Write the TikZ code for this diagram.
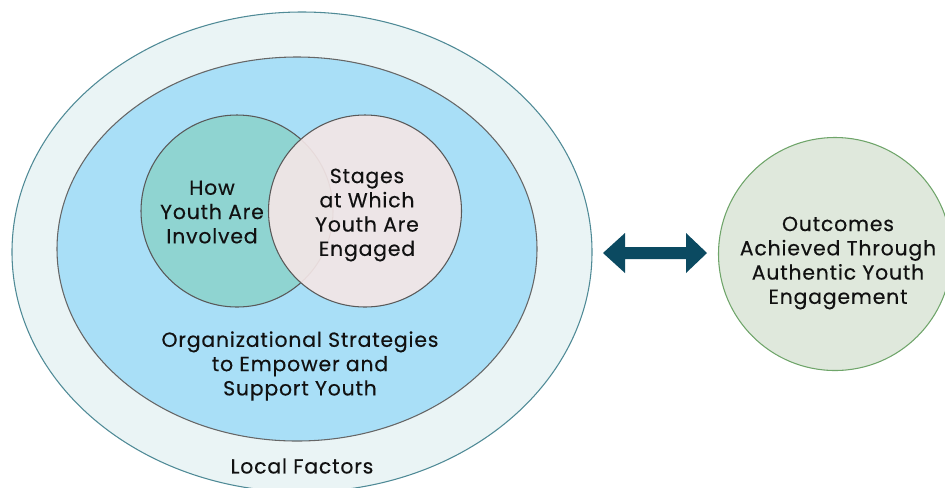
\documentclass[tikz,border=0pt]{standalone}
\usepackage{fontspec}
\setmainfont{Poppins}[LetterSpace=4,FakeBold=0.35]
\usetikzlibrary{shapes.geometric}
\definecolor{outerfill}{HTML}{EAF4F5}
\definecolor{outerdraw}{HTML}{4F8A96}
\definecolor{bluefill}{HTML}{A9DFF7}
\definecolor{tealfill}{HTML}{8FD4D1}
\definecolor{pinkfill}{HTML}{F3E6E6}
\definecolor{greenfill}{HTML}{DFE8DC}
\definecolor{greendraw}{HTML}{6FA56A}
\definecolor{arrowcol}{HTML}{0B4A61}
\definecolor{txt}{HTML}{111111}
\tikzset{
  lbl/.style={align=center, text=txt, font=\fontsize{15.3}{18.2}\selectfont, inner sep=0pt},
  ring/.style={ellipse, inner sep=0pt, line width=0.8pt}
}
\begin{document}
\begin{tikzpicture}[x=0.75pt,y=-0.75pt]
\useasboundingbox (0,0) rectangle (945,487);
\clip (0,0) rectangle (945,487);
\node[ring, draw=outerdraw, fill=outerfill, minimum width={580*0.75pt}, minimum height={480*0.75pt}] (outer) at (302,252) {};
\node[ring, draw=black!60, fill=bluefill, minimum width={480*0.75pt}, minimum height={384*0.75pt}] (blue) at (297,249) {};
\node[ring, draw=black!65, fill=tealfill, minimum width={192*0.75pt}, minimum height={192*0.75pt}] (how) at (237,211) {};
\node[ring, draw=black!65, fill=pinkfill, fill opacity=0.92, minimum width={193*0.75pt}, minimum height={192*0.75pt}] (stages) at (365,211) {};
\node[ring, draw=greendraw, fill=greenfill, minimum width={233*0.75pt}, minimum height={233*0.75pt}] (outc) at (835,254) {};
\node[lbl] (howt) at (212,212) {How\\Youth Are\\Involved};
\node[lbl] (stagest) at (367,215) {Stages\\at Which\\Youth Are\\Engaged};
\node[lbl] (orgt) at (300,366) {Organizational Strategies\\to Empower and\\Support Youth};
\node[lbl] (localt) at (302,466) {Local Factors};
\node[lbl] (outct) at (838,263) {Outcomes\\Achieved Through\\Authentic Youth\\Engagement};
\coordinate (al) at (603,253);
\coordinate (ar) at (707,253);
\fill[arrowcol] (al) -- (625,233) -- (625,247) -- (686,247) -- (686,233) -- (ar) -- (686,273) -- (686,259) -- (625,259) -- (625,273) -- cycle;
\end{tikzpicture}
\end{document}
